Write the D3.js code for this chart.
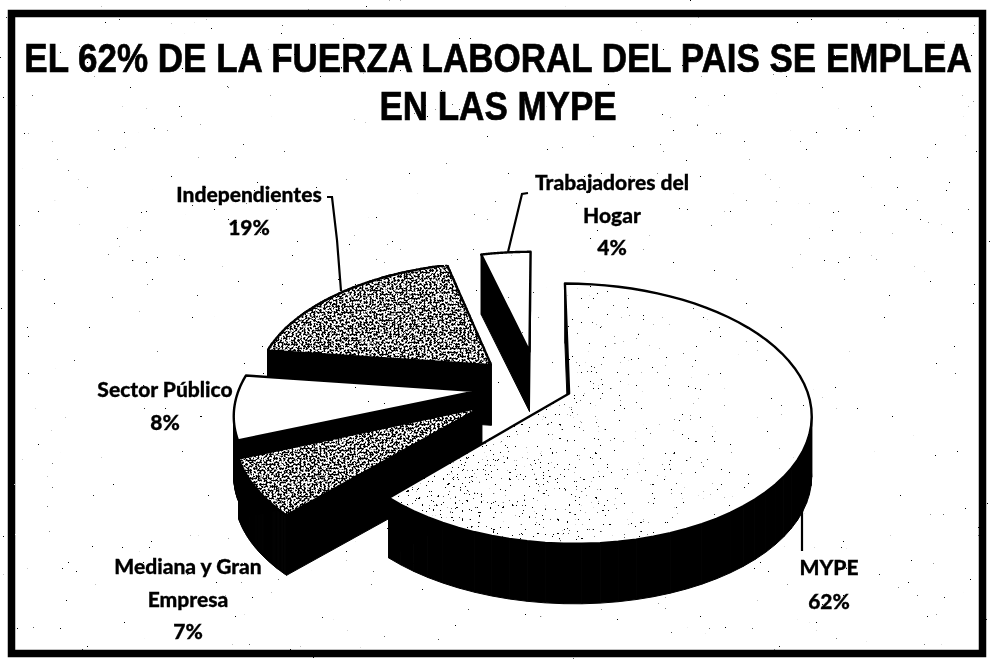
<!DOCTYPE html>
<html><head><meta charset="utf-8">
<script src="https://cdnjs.cloudflare.com/ajax/libs/d3/7.8.5/d3.min.js"></script>
<style>html,body{margin:0;padding:0;background:#fff}svg{display:block}</style></head>
<body><div id="chart"></div>
<script>
const categories = ["MYPE","Mediana y Gran Empresa","Sector Público","Independientes","Trabajadores del Hogar"];
const shares = [62,7,8,19,4];
const labelLines = [["MYPE","62%"],["Mediana y Gran","Empresa","7%"],["Sector Público","8%"],["Independientes","19%"],["Trabajadores del","Hogar","4%"]];
const titleLines = ["EL 62% DE LA FUERZA LABORAL DEL PAIS SE EMPLEA","EN LAS MYPE"];
const explodeBy = [0.14,0.28,0.26,0.27,0.30];

const W=990,H=659;
const svg=d3.select("#chart").append("svg").attr("width",W).attr("height",H);
const defs=svg.append("defs");
// stipple on dark slices: noise speckle over a black face
function grain(id,freq,slope,intercept,seed,oct){
  const f=defs.append("filter").attr("id",id).attr("x",0).attr("y",0).attr("width","100%").attr("height","100%").attr("color-interpolation-filters","sRGB");
  f.append("feTurbulence").attr("type","fractalNoise").attr("baseFrequency",freq).attr("numOctaves",oct).attr("seed",seed).attr("result","n");
  f.append("feColorMatrix").attr("in","n").attr("type","matrix")
   .attr("values",`0 0 0 0 0  0 0 0 0 0  0 0 0 0 0  ${slope} 0 0 0 ${intercept}`).attr("result","a");
  f.append("feComposite").attr("in","a").attr("in2","SourceGraphic").attr("operator","in").attr("result","c");
  const m=f.append("feMerge");m.append("feMergeNode").attr("in","SourceGraphic");m.append("feMergeNode").attr("in","c");
}
grain("dark",0.5,24,-11.6,4,3);
// sparse specks, denser where the source alpha is higher
const fade=defs.append("filter").attr("id","fadeSpeck").attr("x",0).attr("y",0).attr("width","100%").attr("height","100%").attr("color-interpolation-filters","sRGB");
fade.append("feTurbulence").attr("type","fractalNoise").attr("baseFrequency",0.42).attr("numOctaves",2).attr("seed",11).attr("result","n");
fade.append("feColorMatrix").attr("in","n").attr("type","matrix").attr("values","0 0 0 0 0  0 0 0 0 0  0 0 0 0 0  1 0 0 0 0").attr("result","a");
fade.append("feComposite").attr("in","a").attr("in2","SourceAlpha").attr("operator","arithmetic").attr("k1",1).attr("k2",0).attr("k3",0).attr("k4",0).attr("result","m");
const ct=fade.append("feComponentTransfer").attr("in","m");
ct.append("feFuncA").attr("type","linear").attr("slope",40).attr("intercept",-28.4);
const lg0=defs.append("linearGradient").attr("id","fadeGrad").attr("gradientUnits","userSpaceOnUse")
  .attr("x1",400).attr("y1",520).attr("x2",720).attr("y2",340);
lg0.append("stop").attr("offset",0).attr("stop-color","#000").attr("stop-opacity",1);
lg0.append("stop").attr("offset",0.55).attr("stop-color","#000").attr("stop-opacity",0.95);
lg0.append("stop").attr("offset",1).attr("stop-color","#000").attr("stop-opacity",0.85);

const rough=defs.append("filter").attr("id","rough").attr("x",0).attr("y",0).attr("width","100%").attr("height","100%").attr("filterUnits","userSpaceOnUse");
rough.append("feTurbulence").attr("type","fractalNoise").attr("baseFrequency",0.9).attr("numOctaves",1).attr("seed",3).attr("result","t");
rough.append("feDisplacementMap").attr("in","SourceGraphic").attr("in2","t").attr("scale",1.6);
const dust=defs.append("filter").attr("id","dust").attr("x",0).attr("y",0).attr("width","100%").attr("height","100%").attr("color-interpolation-filters","sRGB");
dust.append("feTurbulence").attr("type","fractalNoise").attr("baseFrequency",0.37).attr("numOctaves",2).attr("seed",21);
dust.append("feColorMatrix").attr("type","matrix").attr("values","0 0 0 0 0  0 0 0 0 0  0 0 0 0 0  40 0 0 0 -33");

svg.append("rect").attr("width",W).attr("height",H).attr("fill","#fff");
const page=svg.append("g").attr("filter","url(#rough)");
page.append("rect").attr("x",11.5).attr("y",13.5).attr("width",971).attr("height",640)
  .attr("fill","none").attr("stroke","#000").attr("stroke-width",7.5);

// projection of the unit pie plane to the page
const cx=538,cy=387,A=237,B=125,K=0.154,DEPTH=60;
const project=(u,v)=>{const w=1+K*v;return [cx+A*u/w,cy-B*v/w];};
const arcs=d3.pie().sort(null).value(d=>d)(shares);
const fills=["dark2","dark",null,"dark",null];
const slices=arcs.map((a,i)=>{
  const mid=(a.startAngle+a.endAngle)/2;
  const ou=explodeBy[i]*Math.sin(mid),ov=explodeBy[i]*Math.cos(mid);
  const steps=d3.range(0,61).map(k=>a.startAngle+(a.endAngle-a.startAngle)*k/60);
  const pts=[project(ou,ov),...steps.map(t=>project(ou+Math.sin(t),ov+Math.cos(t)))];
  return {i,pts,fill:fills[i]};
});
const line=d3.line().curve(d3.curveLinearClosed);
const pieG=page.append("g");
[4,3,2,1,0].forEach(i=>{
  const s=slices[i],g=pieG.append("g");
  s.pts.forEach((p,k)=>{
    const q=s.pts[(k+1)%s.pts.length];
    g.append("path").attr("d",line([p,q,[q[0],q[1]+DEPTH],[p[0],p[1]+DEPTH]]))
      .attr("fill","#000").attr("stroke","#000").attr("stroke-width",1);
  });
  g.append("path").attr("d",line(s.pts)).attr("fill","#fff").attr("stroke","#000").attr("stroke-width",2.4).attr("stroke-linejoin","round")
    .attr("filter",s.fill==="dark"?"url(#dark)":null);
  if(s.fill==="dark2"){
    g.append("path").attr("d",line(s.pts)).attr("fill","url(#fadeGrad)").attr("filter","url(#fadeSpeck)");
  }
});

// leader lines
const leaders=[[[802,507],[802,551]],[[327,197],[332,197],[337,240],[341,291]],[[508,252],[522,194],[528,193]]];
page.append("g").selectAll("path").data(leaders).join("path")
  .attr("d",d3.line()).attr("fill","none").attr("stroke","#000").attr("stroke-width",2.2);

// labels
const labelPos=[[829,568],[188,567],[165,390],[249,195],[612,183]];
const labelGap=[34,32.5,33,33,32.5];
const lg=page.append("g").attr("font-family","Lato, sans-serif").attr("font-weight",900).attr("font-size",21).attr("fill","#000").attr("stroke","#000").attr("stroke-width",0.3).attr("text-anchor","middle");
labelLines.forEach((ls,i)=>ls.forEach((t,j)=>{
  lg.append("text").attr("x",labelPos[i][0]).attr("y",labelPos[i][1]+j*labelGap[i]).attr("dy","0.35em").text(t);
}));

// title
page.append("g").attr("font-family","'Liberation Sans', Arial, sans-serif").attr("font-weight",700).attr("font-size",35).attr("fill","#000").attr("stroke","#000").attr("stroke-width",0.6).attr("text-anchor","middle")
 .selectAll("text").data(titleLines).join("text")
 .attr("transform",(d,i)=>`translate(498,${72+i*48}) scale(1,1.16)`).text(d=>d);

svg.append("rect").attr("width",W).attr("height",H).attr("fill","#000").attr("filter","url(#dust)");
</script></body></html>
